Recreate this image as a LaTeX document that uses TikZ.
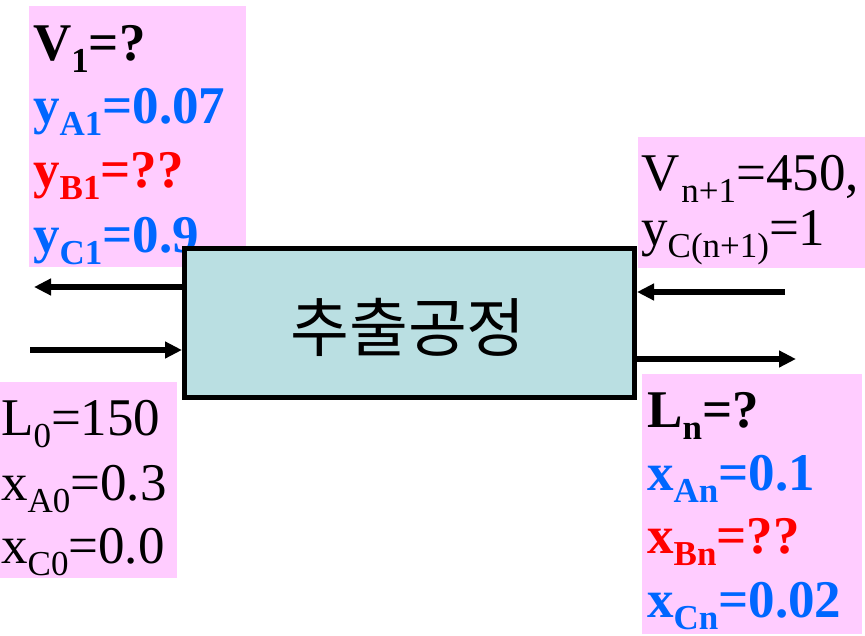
\documentclass[tikz,border=0pt]{standalone}
\usepackage{fontspec}
\setmainfont{Liberation Serif}
\newfontfamily\krfont{Noto Sans CJK KR}
\usetikzlibrary{arrows.meta}
\definecolor{pinkbg}{HTML}{FFCCFF}
\definecolor{procfill}{HTML}{BADFE2}
\definecolor{blu}{HTML}{0066FF}
\definecolor{rd}{HTML}{FF0000}
\newcommand\lowsub[1]{\raisebox{-12pt}{\fontsize{35}{35}\selectfont #1}}
\tikzset{
  pinkbox/.style={fill=pinkbg, draw=none},
  txt/.style={anchor=base west, inner sep=0pt, font=\fontsize{53}{53}\selectfont},
  btxt/.style={txt, font=\fontsize{53}{53}\selectfont\bfseries},
  flow/.style={line width=5.5pt, -{Triangle[length=17pt,width=16pt]}},
  procbox/.style={draw=black, line width=5pt, fill=procfill, minimum width=450pt, minimum height=149pt, inner sep=0pt}
}
\begin{document}
\begin{tikzpicture}[x=1pt,y=-1pt]
\useasboundingbox (0,0) rectangle (865,635);
% pink backgrounds
\fill[pinkbox] (29,6) rectangle (246,267);
\fill[pinkbox] (638,137) rectangle (865,268);
\fill[pinkbox] (0,382) rectangle (177,578);
\fill[pinkbox] (642,374) rectangle (862,634);
% top-left texts
\node[btxt] (v1) at (33,60) {V\lowsub{1}=?};
\node[btxt, text=blu] (ya1) at (33,123) {y\lowsub{A1}=0.07};
\node[btxt, text=rd] (yb1) at (33,187) {y\lowsub{B1}=??};
\node[btxt, text=blu] (yc1) at (33,252) {y\lowsub{C1}=0.9};
% top-right texts
\node[txt] (vn1) at (641,190) {V\kern2pt\lowsub{n+1}=450,};
\node[txt] (ycn1) at (641,245) {y\lowsub{C(n+1)}=1};
% bottom-left texts
\node[txt] (l0) at (1,435) {L\lowsub{0}=150};
\node[txt] (xa0) at (1,500) {x\lowsub{A0}=0.3};
\node[txt] (xc0) at (1,563) {x\lowsub{C0}=0.0};
% bottom-right texts
\node[btxt] (ln) at (647,427) {L\lowsub{n}=?};
\node[btxt, text=blu] (xan) at (647,490) {x\lowsub{An}=0.1};
\node[btxt, text=rd] (xbn) at (647,553) {x\lowsub{Bn}=??};
\node[btxt, text=blu] (xcn) at (647,617) {x\lowsub{Cn}=0.02};
% process box
\node[procbox] (proc) at (409.5,323) {};
\node[font=\krfont\fontsize{64}{64}\selectfont, inner sep=0pt] (proctext) at (408,327) {추출공정};
% stream end points
\coordinate (v1end) at (34,287);
\coordinate (l0start) at (30,350);
\coordinate (vnstart) at (785,292);
\coordinate (lnend) at (796,359);
% connectors
\draw[flow] (proc.west |- v1end) -- (v1end);
\draw[flow] (l0start) -- (l0start -| proc.west);
\draw[flow] (vnstart) -- (vnstart -| proc.east);
\draw[flow] (lnend -| proc.east) -- (lnend);
\end{tikzpicture}
\end{document}
